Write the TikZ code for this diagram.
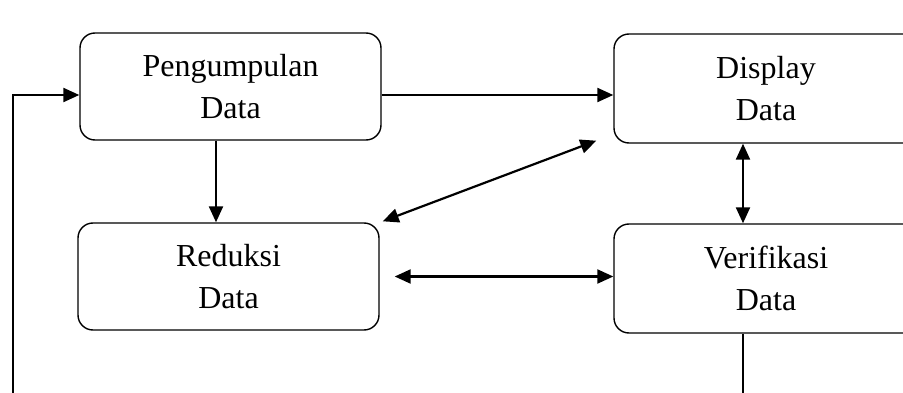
\documentclass[tikz,border=0pt]{standalone}
\usepackage{fontspec}
\setmainfont{Liberation Serif}
\usetikzlibrary{arrows.meta}
\begin{document}
\begin{tikzpicture}[x=1pt,y=-1pt,
  procbox/.style={draw, line width=1.4pt, rounded corners=15pt, align=center,
    font=\fontsize{32}{42}\selectfont, inner sep=0pt},
  conn/.style={line width=2.2pt, -{Triangle[length=16pt,width=14pt]}},
  dconn/.style={line width=2.2pt, {Triangle[length=16pt,width=14pt]}-{Triangle[length=16pt,width=14pt]}},
  plain/.style={line width=2.2pt}]
\useasboundingbox (0,0) rectangle (903,393);
\clip (0,0) rectangle (903,393);
\node[procbox, minimum width=301pt, minimum height=107pt] (P) at (230.5,86.5) {Pengumpulan\\Data};
\node[procbox, minimum width=304pt, minimum height=109pt] (D) at (766,88.5) {Display\\Data};
\node[procbox, minimum width=301pt, minimum height=107pt] (R) at (228.5,276.5) {Reduksi\\Data};
\node[procbox, minimum width=304pt, minimum height=109pt] (V) at (766,278.5) {Verifikasi\\Data};
\coordinate (pe) at ([yshift=-8.5pt]P.east);
\coordinate (pw) at ([yshift=-8.5pt]P.west);
\coordinate (fb) at (13,393);
\coordinate (ps) at ([xshift=-14.5pt]P.south);
\coordinate (re) at ([xshift=15pt]R.east);
\coordinate (ds) at ([xshift=-23pt]D.south);
\coordinate (vs) at ([xshift=-23pt]V.south);
\coordinate (vend) at (743,393);
\draw[conn] (pe) -- (pe -| D.west);
\draw[conn] (fb) |- (pw);
\draw[conn] (ps) -- (ps |- R.north);
\draw[dconn] ([shift={(3,-1)}]R.north east) -- ([shift={(-17,-3)}]D.south west);
\draw[dconn] (re) -- (re -| V.west);
\draw[dconn] (ds) -- (ds |- V.north);
\draw[plain] (vs) -- (vend);
\end{tikzpicture}
\end{document}
